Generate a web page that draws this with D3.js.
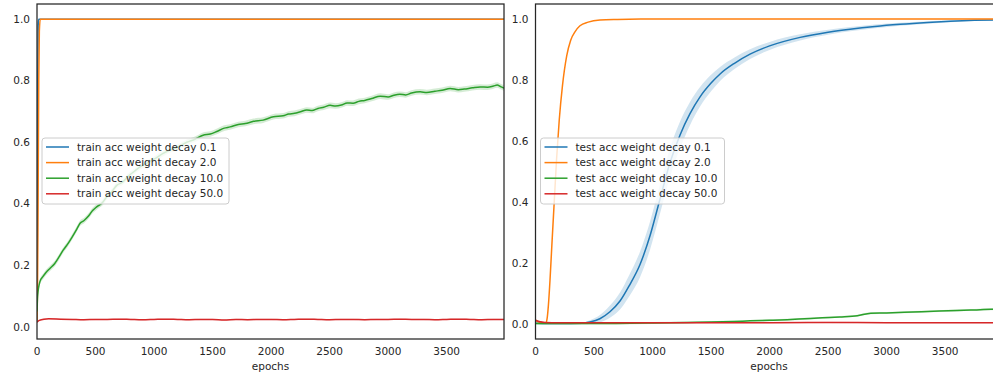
<!DOCTYPE html>
<html>
<head>
<meta charset="utf-8">
<script src="https://cdn.jsdelivr.net/npm/d3@7"></script>
<style>
  body { margin: 0; background: #fff; }
  svg { display: block; }
  text { font-family: "DejaVu Sans", sans-serif; fill: #262626; }
</style>
</head>
<body>
<div id="chart"></div>
<script>
// ---- data ----
var decays = ['0.1', '2.0', '10.0', '50.0']
var colours = ['#1f77b4', '#ff7f0e', '#2ca02c', '#d62728']
var xTicks = [0, 500, 1000, 1500, 2000, 2500, 3000, 3500]
var yTicks = [0.0, 0.2, 0.4, 0.6, 0.8, 1.0]

// train acc
var trainEpochs01 = [0, 3, 6, 10, 15, 3990]
var trainAcc01 = [0.02, 0.3, 0.8, 0.98, 1.0, 1.0]
var trainEpochs2 = [0, 5, 10, 15, 20, 28, 3990]
var trainAcc2 = [0.02, 0.15, 0.45, 0.8, 0.96, 1.0, 1.0]
var trainEpochs10 = [0, 5, 25, 50, 75, 110, 150, 190, 225, 260, 300, 340, 368, 400, 440, 475, 510, 560, 600, 640, 681, 730, 780, 830, 880, 940,
  1000, 1070, 1137, 1200, 1280, 1350, 1419, 1480, 1530, 1600, 1650, 1720, 1780, 1850, 1932, 2020, 2103, 2150, 2200, 2250, 2305, 2350, 2400,
  2450, 2504, 2550, 2600, 2650, 2700, 2750, 2800, 2860, 2932, 3000, 3050, 3100, 3150, 3200, 3273, 3330, 3400, 3460, 3530, 3600, 3650,
  3720, 3786, 3850, 3900, 3932, 3960, 3990]
var trainAcc10 = [0.05, 0.1, 0.147, 0.163, 0.176, 0.19, 0.205, 0.228, 0.25, 0.268, 0.292, 0.318, 0.337, 0.345, 0.36, 0.378, 0.39, 0.404, 0.425, 0.44, 0.46, 0.47, 0.49, 0.505, 0.52, 0.532,
  0.545, 0.562, 0.575, 0.584, 0.60, 0.61, 0.623, 0.627, 0.634, 0.646, 0.65, 0.658, 0.661, 0.668, 0.672, 0.683, 0.686, 0.692, 0.694, 0.699, 0.705, 0.703, 0.71,
  0.714, 0.72, 0.718, 0.721, 0.728, 0.727, 0.733, 0.736, 0.742, 0.75, 0.747, 0.753, 0.756, 0.754, 0.76, 0.764, 0.762, 0.766, 0.769, 0.775, 0.771, 0.773,
  0.777, 0.78, 0.779, 0.783, 0.786, 0.781, 0.776]
var trainStd10 = 0.009
var trainEpochs50 = [0, 20, 60, 100, 200, 300, 400, 500, 600, 700, 800, 900, 1000, 1100, 1200, 1300, 1400, 1500, 1600, 1700, 1800, 1900, 2000,
  2100, 2200, 2300, 2400, 2500, 2600, 2700, 2800, 2900, 3000, 3100, 3200, 3300, 3400, 3500, 3600, 3700, 3800, 3900, 3990]
var trainAcc50 = [0.015, 0.021, 0.025, 0.026, 0.025, 0.024, 0.023, 0.024, 0.024, 0.025, 0.024, 0.023, 0.024, 0.025, 0.024, 0.023, 0.024, 0.024, 0.022, 0.024, 0.023, 0.024, 0.024,
  0.023, 0.024, 0.025, 0.024, 0.023, 0.024, 0.024, 0.023, 0.024, 0.024, 0.025, 0.024, 0.024, 0.023, 0.024, 0.025, 0.024, 0.023, 0.024, 0.024]

// test acc
var testEpochs01 = [0, 200, 400, 465, 550, 636, 722, 800, 893, 979, 1064, 1150, 1235, 1320, 1406, 1500, 1577, 1700, 1833, 2000, 2261, 2500, 2688, 2900, 3115, 3350, 3543, 3750, 3990]
var testAcc01 = [0.002, 0.001, 0.002, 0.006, 0.017, 0.04, 0.075, 0.125, 0.195, 0.29, 0.41, 0.53, 0.62, 0.69, 0.745, 0.79, 0.82, 0.855, 0.885, 0.912, 0.94, 0.957, 0.967, 0.976, 0.983, 0.989, 0.993, 0.996, 0.998]
var testStd01 = [0.002, 0.002, 0.003, 0.006, 0.012, 0.02, 0.028, 0.035, 0.042, 0.046, 0.048, 0.047, 0.044, 0.038, 0.032, 0.027, 0.023, 0.019, 0.016, 0.013, 0.01, 0.008, 0.007, 0.006, 0.005, 0.004, 0.003, 0.002, 0.001]
var testEpochs2 = [0, 30, 60, 90, 100, 110, 124, 140, 160, 180, 203, 230, 267, 300, 340, 380, 450, 551, 700, 900, 3990]
var testAcc2 = [0.012, 0.006, 0.004, 0.004, 0.02, 0.06, 0.144, 0.26, 0.4, 0.54, 0.67, 0.78, 0.88, 0.93, 0.96, 0.978, 0.99, 0.997, 0.999, 1.0, 1.0]
var testEpochs10 = [0, 500, 1000, 1300, 1500, 1700, 1833, 2000, 2150, 2300, 2450, 2600, 2750, 2865, 3000, 3150, 3300, 3450, 3600, 3750, 3894, 3990]
var testAcc10 = [0.001, 0.001, 0.003, 0.005, 0.006, 0.008, 0.01, 0.012, 0.014, 0.017, 0.02, 0.023, 0.027, 0.035, 0.036, 0.038, 0.04, 0.042, 0.044, 0.046, 0.048, 0.048]
var testStd10 = 0.003
var testEpochs50 = [0, 30, 80, 200, 500, 1000, 1500, 2000, 2500, 3000, 3500, 3990]
var testAcc50 = [0.012, 0.008, 0.005, 0.004, 0.004, 0.004, 0.004, 0.004, 0.005, 0.004, 0.004, 0.004]

var trainSeries = [
  {e: trainEpochs01, v: trainAcc01, s: null},
  {e: trainEpochs2, v: trainAcc2, s: null},
  {e: trainEpochs10, v: trainAcc10, s: trainStd10},
  {e: trainEpochs50, v: trainAcc50, s: 0.002}
]
var testSeries = [
  {e: testEpochs01, v: testAcc01, s: testStd01},
  {e: testEpochs2, v: testAcc2, s: null},
  {e: testEpochs10, v: testAcc10, s: testStd10},
  {e: testEpochs50, v: testAcc50, s: 0.002}
]

var W = 993, H = 377
var svg = d3.select('#chart').append('svg')
  .attr('width', W)
  .attr('height', H)

var defs = svg.append('defs')

function drawPanel(id, left, yDomain, series, prefix) {
  var top = 4, bottom = 339, width = 467

  var x = d3.scaleLinear().domain([0, 3990]).range([left, left + width])
  var y = d3.scaleLinear().domain(yDomain).range([bottom, top])

  defs.append('clipPath').attr('id', 'clip-' + id)
    .append('rect').attr('x', left).attr('y', top).attr('width', width).attr('height', bottom - top)

  var g = svg.append('g')
  var plot = g.append('g').attr('clip-path', 'url(#clip-' + id + ')')

  // bands first, then lines
  series.forEach(function(s, i) {
    if (s.s === null) return
    var pts = s.e.map(function(e, j) {
      var sd = Array.isArray(s.s) ? s.s[j] : s.s
      return {e: e, lo: s.v[j] - sd, hi: s.v[j] + sd}
    })
    plot.append('path')
      .datum(pts)
      .attr('d', d3.area().curve(d3.curveMonotoneX).x(d => x(d.e)).y0(d => y(d.lo)).y1(d => y(d.hi)))
      .attr('fill', colours[i])
      .attr('fill-opacity', 0.2)
  })

  series.forEach(function(s, i) {
    var pts = s.e.map((e, j) => [e, s.v[j]])
    plot.append('path')
      .datum(pts)
      .attr('d', d3.line().curve(d3.curveMonotoneX).x(d => x(d[0])).y(d => y(d[1])))
      .attr('fill', 'none')
      .attr('stroke', colours[i])
      .attr('stroke-width', 1.5)
      .attr('stroke-linejoin', 'round')
  })

  // spines
  g.append('rect')
    .attr('x', left).attr('y', top)
    .attr('width', width).attr('height', bottom - top)
    .attr('fill', 'none')
    .attr('stroke', '#262626')
    .attr('stroke-width', 1.25)

  // tick labels
  g.selectAll('.ytick').data(yTicks).enter().append('text')
    .attr('x', left - 7)
    .attr('y', d => y(d))
    .attr('dy', '0.35em')
    .attr('text-anchor', 'end')
    .style('font-size', '10.5px')
    .text(d => d.toFixed(1))

  g.selectAll('.xtick').data(xTicks).enter().append('text')
    .attr('x', d => x(d))
    .attr('y', 355)
    .attr('text-anchor', 'middle')
    .style('font-size', '10.5px')
    .text(d => d)

  g.append('text')
    .attr('x', left + width / 2)
    .attr('y', 370)
    .attr('text-anchor', 'middle')
    .style('font-size', '10.5px')
    .text('epochs')

  // legend
  var lx = left + 5, ly = 138
  var legend = g.append('g').attr('class', 'legend')
  legend.append('rect')
    .attr('x', lx).attr('y', ly)
    .attr('width', prefix === 'train' ? 187 : 184).attr('height', 66)
    .attr('rx', 3)
    .attr('fill', 'white').attr('fill-opacity', 0.8)
    .attr('stroke', '#cccccc').attr('stroke-width', 1)

  decays.forEach(function(dk, i) {
    var ry = ly + 9 + i * 15.6
    legend.append('line')
      .attr('x1', lx + 4).attr('x2', lx + 27)
      .attr('y1', ry).attr('y2', ry)
      .attr('stroke', colours[i]).attr('stroke-width', 1.5)
    legend.append('text')
      .attr('x', lx + 35).attr('y', ry)
      .attr('dy', '0.35em')
      .style('font-size', '10.5px')
      .text(prefix + ' acc weight decay ' + dk)
  })
}

drawPanel('train', 37, [-0.0395, 1.0495], trainSeries, 'train')
drawPanel('test', 535.5, [-0.0495, 1.0495], testSeries, 'test')
</script>
</body>
</html>
